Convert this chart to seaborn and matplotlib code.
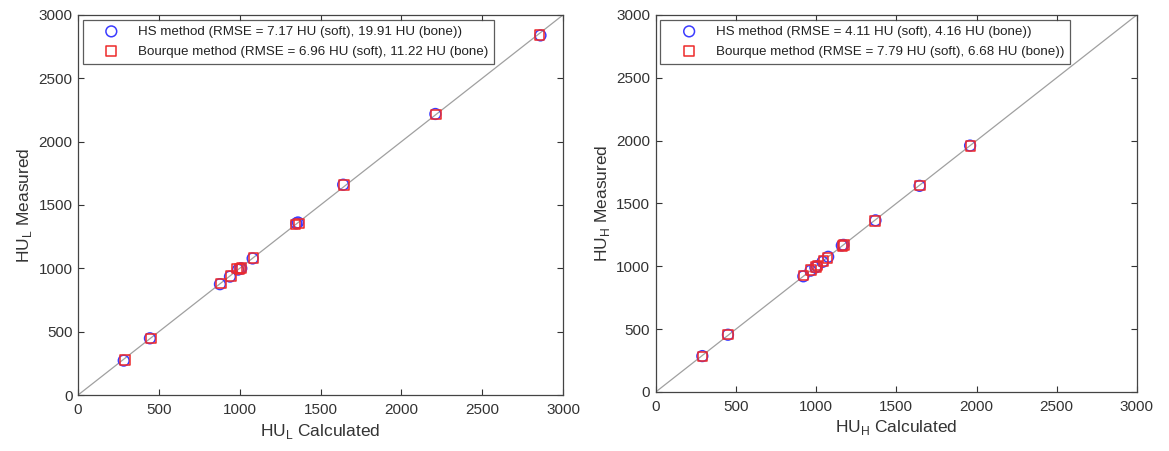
import numpy as np
import pandas as pd
import matplotlib
matplotlib.use("Agg")
import matplotlib.pyplot as plt
import seaborn as sns

# ---- data ----
hs_calc_L = [283, 445, 878, 940, 990, 1005, 1010, 1080, 1350, 1360, 1640, 2210, 2860]
hs_meas_L = [272, 448, 875, 935, 990, 998, 1000, 1078, 1355, 1362, 1660, 2218, 2838]
bq_calc_L = [292, 450, 885, 945, 985, 1000, 1012, 1085, 1345, 1365, 1645, 2215, 2855]
bq_meas_L = [275, 445, 880, 940, 1000, 995, 1005, 1080, 1345, 1355, 1660, 2215, 2840]

hs_calc_H = [290, 450, 920, 965, 995, 1005, 1040, 1075, 1160, 1170, 1370, 1645, 1960]
hs_meas_H = [285, 455, 920, 965, 990, 1000, 1035, 1075, 1165, 1170, 1365, 1640, 1960]
bq_calc_H = [292, 452, 922, 968, 998, 1008, 1045, 1070, 1165, 1172, 1368, 1648, 1962]
bq_meas_H = [283, 458, 925, 968, 995, 1005, 1040, 1065, 1160, 1168, 1362, 1642, 1958]

legend_L = ["HS method (RMSE = 7.17 HU (soft), 19.91 HU (bone))",
            "Bourque method (RMSE = 6.96 HU (soft), 11.22 HU (bone)"]
legend_H = ["HS method (RMSE = 4.11 HU (soft), 4.16 HU (bone))",
            "Bourque method (RMSE = 7.79 HU (soft), 6.68 HU (bone))"]
xlabels = [r"HU$_\mathregular{L}$ Calculated", r"HU$_\mathregular{H}$ Calculated"]
ylabels = [r"HU$_\mathregular{L}$ Measured", r"HU$_\mathregular{H}$ Measured"]
ticks = [0, 500, 1000, 1500, 2000, 2500, 3000]

sns.set_theme(style="white")
plt.rcParams['font.family'] = ['Liberation Sans', 'DejaVu Sans']
plt.rcParams['mathtext.fontset'] = 'custom'
plt.rcParams['mathtext.rm'] = 'Liberation Sans'

fig = plt.figure(figsize=(11.69, 4.51), dpi=100)
axL = fig.add_axes([0.0667, 0.124, 0.415, 0.843])
axH = fig.add_axes([0.561, 0.131, 0.4115, 0.836])

panels = [
    (axL, hs_calc_L, hs_meas_L, bq_calc_L, bq_meas_L, legend_L, xlabels[0], ylabels[0]),
    (axH, hs_calc_H, hs_meas_H, bq_calc_H, bq_meas_H, legend_H, xlabels[1], ylabels[1]),
]

for ax, hc, hm, bc, bm, leg, xl, yl in panels:
    ax.plot([0, 3000], [0, 3000], color="#a0a0a0", lw=0.9, zorder=1)
    df_hs = pd.DataFrame({"calc": hc, "meas": hm})
    df_bq = pd.DataFrame({"calc": bc, "meas": bm})
    sns.scatterplot(data=df_hs, x="calc", y="meas", ax=ax, marker="o", s=60,
                    facecolor="none", edgecolor="#3b3bff", linewidth=1.1,
                    label=leg[0], zorder=3)
    sns.scatterplot(data=df_bq, x="calc", y="meas", ax=ax, marker="s", s=48,
                    facecolor="none", edgecolor="#ee2a2a", linewidth=1.1,
                    label=leg[1], zorder=3)
    ax.set_xlim(0, 3000)
    ax.set_ylim(0, 3000)
    ax.set_xticks(ticks)
    ax.set_yticks(ticks)
    ax.tick_params(direction="in", length=4, width=0.8, top=True, right=True,
                   bottom=True, left=True, labelsize=11, colors="#333333",
                   labelcolor="#333333")
    ax.tick_params(axis="x", pad=6)
    ax.tick_params(axis="y", pad=4)
    for sp in ax.spines.values():
        sp.set_color("#444444")
        sp.set_linewidth(0.9)
    ax.set_xlabel(xl, fontsize=12.5, color="#333333", labelpad=3)
    ax.set_ylabel(yl, fontsize=12.5, color="#333333", labelpad=3)
    lg = ax.legend(loc="upper left", fontsize=9.6, frameon=True, fancybox=False,
                   edgecolor="#333333", borderpad=0.45, handletextpad=0.3,
                   labelspacing=0.55, borderaxespad=0.35, handlelength=3.4)
    lg.get_frame().set_linewidth(0.9)
    for t in lg.get_texts():
        t.set_color("#222222")

fig.savefig("out.png", dpi=100)
